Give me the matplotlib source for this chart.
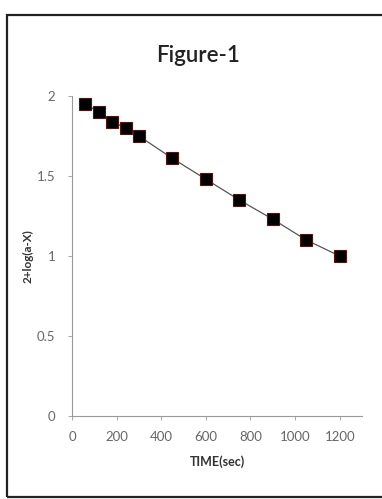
import matplotlib
matplotlib.use("Agg")
import matplotlib.pyplot as plt
from matplotlib.patches import Rectangle

# 시간(초)과 2+log(a-X) 값
time_sec = [60, 120, 180, 240, 300, 450, 600, 750, 900, 1050, 1200]
log_vals = [1.95, 1.90, 1.84, 1.80, 1.75, 1.61, 1.48, 1.35, 1.23, 1.10, 1.00]
x_ticks = [0, 200, 400, 600, 800, 1000, 1200]
y_ticks = [0, 0.5, 1, 1.5, 2]
y_tick_labels = ["0", "0.5", "1", "1.5", "2"]

plt.rcParams["font.family"] = ["Lato", "DejaVu Sans"]

fig = plt.figure(figsize=(3.82, 4.99), dpi=100)
fig.patches.append(Rectangle((7 / 382, 2 / 499), 1.2, 482 / 499,
                             transform=fig.transFigure, fill=False,
                             edgecolor="#222222", linewidth=1.6))

ax = fig.add_axes([72 / 382, 83 / 499, 290 / 382, 320 / 499])
ax.plot(time_sec, log_vals, color="#555555", linewidth=0.9,
        marker="s", markersize=8, markerfacecolor="black",
        markeredgecolor="#5a1010", markeredgewidth=0.8)

ax.set_xlim(0, 1300)
ax.set_ylim(0, 2)
ax.set_xticks(x_ticks)
ax.set_yticks(y_ticks)
ax.set_yticklabels(y_tick_labels)

for side in ["top", "right"]:
    ax.spines[side].set_visible(False)
for side in ["left", "bottom"]:
    ax.spines[side].set_color("#999999")
    ax.spines[side].set_linewidth(0.8)
ax.tick_params(direction="out", length=3, width=0.6, color="#999999",
               labelsize=9.5, labelcolor="#666666")
ax.tick_params(axis="y", pad=9)
ax.tick_params(axis="x", pad=8)

ax.set_xlabel("TIME(sec)", fontsize=9, fontweight="bold",
              color="#333333", labelpad=9)
ax.set_ylabel("2+log(a-X)", fontsize=8.5, fontweight="bold",
              color="#333333", labelpad=2)
fig.text(198 / 382, 1 - 55 / 499, "Figure-1", ha="center", va="center",
         fontsize=16, fontweight="semibold", color="#222222")

fig.savefig("out.png", dpi=100)
